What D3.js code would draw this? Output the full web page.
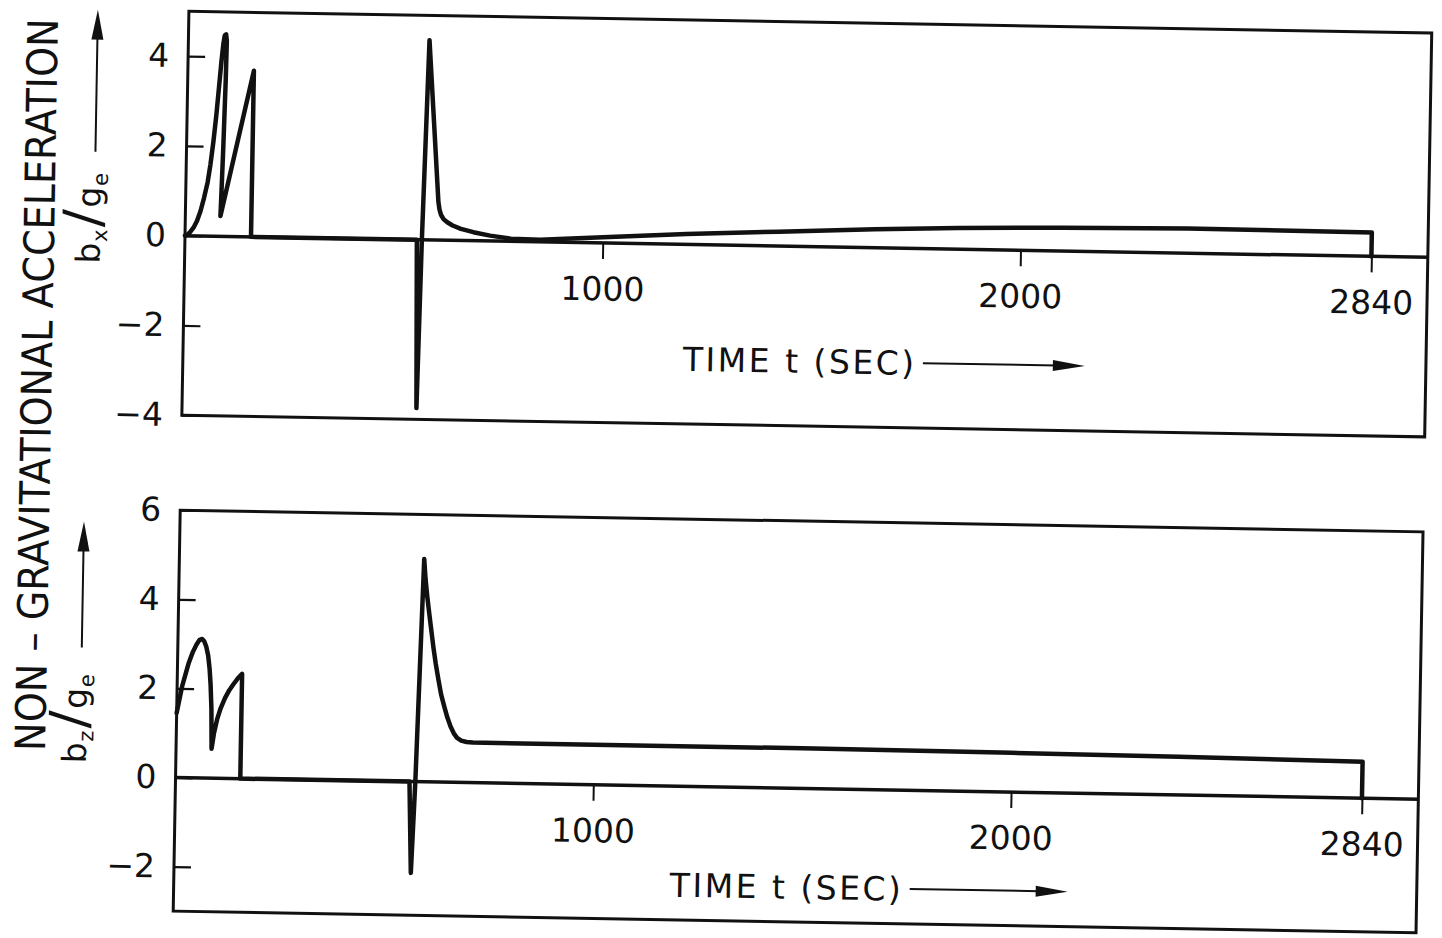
<!DOCTYPE html>
<html>
<head>
<meta charset="utf-8">
<script src="https://cdn.jsdelivr.net/npm/d3@7"></script>
<style>
  body { margin: 0; background: #fff; }
  svg text { font-family: 'DejaVu Sans', sans-serif; fill: #111; }
</style>
</head>
<body>
<div id="chart"></div>
<script>
// tick values
const timeTicks = [1000, 2000, 2840];
const bxTicks = [4, 2, 0, -2, -4];
const bzTicks = [6, 4, 2, 0, -2];

// b_x / g_e against time t (sec): [t, value]
const bxSeries = [
  [0, 0], [5, 0.02], [12, 0.08], [20, 0.18], [28, 0.33], [36, 0.55], [44, 0.85],
  [52, 1.2], [58, 1.6], [64, 2.1], [70, 2.7], [75, 3.3], [80, 3.9], [84, 4.3],
  [87, 4.48], [90, 4.5], [92, 4.35], [91, 3.5], [88, 2.0], [85, 0.8], [84, 0.45],
  [158, 3.7], [158, 0],
  [555, 0], [561, -3.75], [567, 0], [577, 4.45], [605, 0.85], [608, 0.68],
  [612, 0.56], [618, 0.47], [627, 0.4], [640, 0.33], [660, 0.26], [690, 0.19],
  [730, 0.12], [780, 0.06], [850, 0.05], [1000, 0.13], [1200, 0.23],
  [1420, 0.32], [1650, 0.41], [1850, 0.47], [2100, 0.52], [2400, 0.55],
  [2840, 0.53], [2840, 0]
];

// b_z / g_e against time t (sec): [t, value]
const bzSeries = [
  [0, 1.45], [6, 1.75], [12, 2.05], [19, 2.3], [27, 2.58], [36, 2.82], [45, 3.0],
  [52, 3.1], [58, 3.12], [63, 3.07], [68, 2.95], [73, 2.75], [77, 2.45], [80, 2.1],
  [83, 1.55], [85, 0.66], [90, 1.0], [97, 1.32], [105, 1.57], [115, 1.8],
  [125, 1.98], [135, 2.12], [145, 2.25], [155, 2.35], [155, 0],
  [560, 0], [567, -2.05], [574, 0], [586, 5.0], [590, 4.55], [595, 4.15],
  [600, 3.8], [606, 3.4], [612, 3.0], [618, 2.65], [625, 2.3], [632, 1.97],
  [640, 1.7], [648, 1.45], [656, 1.25], [664, 1.1], [672, 1.0], [682, 0.94],
  [695, 0.91], [710, 0.9], [1000, 0.9], [1500, 0.9], [2000, 0.88], [2400, 0.86],
  [2840, 0.82], [2840, 0]
];

const width = 1442, height = 938;

const svg = d3.select('#chart').append('svg')
  .attr('width', width)
  .attr('height', height);

// the original sheet sits about 1 degree off square
const page = svg.append('g').attr('transform', 'rotate(1, 800, 470)');

const x = d3.scaleLinear().domain([0, 2975]).range([181, 1424]);

function drawPanel(opts) {
  const y = d3.scaleLinear().domain(opts.domain).range([opts.bottom, opts.top]);
  const g = page.append('g');

  // frame
  g.append('rect')
    .attr('x', x.range()[0]).attr('y', opts.top)
    .attr('width', x.range()[1] - x.range()[0])
    .attr('height', opts.bottom - opts.top)
    .attr('fill', 'none').attr('stroke', '#111').attr('stroke-width', 3);

  // y axis, ticks pointing inward
  const yAxis = g.append('g')
    .attr('transform', `translate(${x.range()[0]},0)`)
    .call(d3.axisLeft(y).tickValues(opts.ticks).tickSize(-17).tickPadding(19));
  yAxis.select('.domain').remove();
  yAxis.selectAll('line').attr('stroke', '#111').attr('stroke-width', 2.2);
  yAxis.selectAll('text').style('font-size', '33px').attr('fill', '#111');

  // zero line
  g.append('line')
    .attr('x1', x.range()[0]).attr('x2', x.range()[1])
    .attr('y1', y(0)).attr('y2', y(0))
    .attr('stroke', '#111').attr('stroke-width', 3.5);

  // time axis on the zero line
  const xAxis = g.append('g')
    .attr('transform', `translate(0,${y(0)})`)
    .call(d3.axisBottom(x).tickValues(timeTicks).tickSize(16).tickPadding(18).tickFormat(d3.format('d')));
  xAxis.select('.domain').remove();
  xAxis.selectAll('line').attr('stroke', '#111').attr('stroke-width', 2);
  xAxis.selectAll('text').style('font-size', '33px').attr('fill', '#111');

  // curve
  const line = d3.line().x(d => x(d[0])).y(d => y(d[1]));
  g.append('path')
    .datum(opts.series)
    .attr('d', line)
    .attr('fill', 'none')
    .attr('stroke', '#111')
    .attr('stroke-width', 4.5)
    .attr('stroke-linejoin', 'round')
    .attr('stroke-linecap', 'round');

  // TIME label with arrow
  g.append('text')
    .attr('x', opts.timeX).attr('y', opts.timeY)
    .attr('dy', '0.36em')
    .style('font-size', '33px')
    .style('letter-spacing', '2.5px')
    .text('TIME t (SEC)');
  g.append('line')
    .attr('x1', opts.timeX + 240).attr('x2', opts.arrowEnd - 28)
    .attr('y1', opts.timeY).attr('y2', opts.timeY)
    .attr('stroke', '#111').attr('stroke-width', 2);
  g.append('path')
    .attr('d', `M${opts.arrowEnd},${opts.timeY} L${opts.arrowEnd - 32},${opts.timeY - 5.5} L${opts.arrowEnd - 32},${opts.timeY + 5.5} Z`)
    .attr('fill', '#111');

  // rotated b/g label
  const lab = g.append('text')
    .attr('transform', `translate(${opts.labX},${opts.labY}) rotate(-90)`)
    .style('font-size', '33px');
  lab.append('tspan').text('b');
  lab.append('tspan').attr('dy', 7).attr('dx', 1).style('font-size', '21px').text(opts.sub);
  lab.append('tspan').attr('dy', -7).attr('dx', 2).style('font-size', '52px').text('/');
  lab.append('tspan').attr('dx', 2).text('g');
  lab.append('tspan').attr('dy', 7).attr('dx', 1).style('font-size', '21px').text('e');

  // vertical arrow
  g.append('line')
    .attr('x1', opts.arrX).attr('x2', opts.arrX)
    .attr('y1', opts.arrFrom).attr('y2', opts.arrTo + 26)
    .attr('stroke', '#111').attr('stroke-width', 2);
  g.append('path')
    .attr('d', `M${opts.arrX},${opts.arrTo} L${opts.arrX - 6},${opts.arrTo + 30} L${opts.arrX + 6},${opts.arrTo + 30} Z`)
    .attr('fill', '#111');
}

drawPanel({
  series: bxSeries, domain: [-4, 5], ticks: bxTicks, top: 22, bottom: 426,
  timeX: 681, timeY: 361, arrowEnd: 1083,
  sub: 'x', labX: 96, labY: 276,
  arrX: 90, arrFrom: 164, arrTo: 22
});

drawPanel({
  series: bzSeries, domain: [-3, 6], ticks: bzTicks, top: 521, bottom: 922,
  timeX: 677, timeY: 887, arrowEnd: 1075,
  sub: 'z', labX: 91, labY: 776,
  arrX: 85, arrFrom: 660, arrTo: 534
});

// shared vertical title, squeezed along its length like the lettering on the sheet
page.append('text')
  .attr('transform', 'translate(35,398) rotate(-90) scale(0.91,1)')
  .attr('text-anchor', 'middle')
  .attr('dy', '0.36em')
  .style('font-size', '42px')
  .text('NON \u2013 GRAVITATIONAL  ACCELERATION');
</script>
</body>
</html>
